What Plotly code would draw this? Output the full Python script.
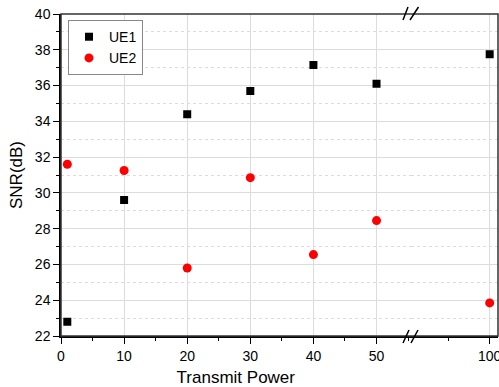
import plotly.graph_objects as go

x_left = [1, 10, 20, 30, 40, 50]
x_right = [100]
ue1_left = [22.8, 29.6, 34.4, 35.7, 37.15, 36.1]
ue1_right = [37.75]
ue2_left = [31.6, 31.25, 25.8, 30.85, 26.55, 28.45]
ue2_right = [23.85]

font = "Liberation Sans, Arial, sans-serif"
fig = go.Figure()
fig.add_trace(go.Scatter(x=x_left, y=ue1_left, mode="markers", name="UE1",
                         marker=dict(symbol="square", size=8, color="black"),
                         xaxis="x", yaxis="y"))
fig.add_trace(go.Scatter(x=x_left, y=ue2_left, mode="markers", name="UE2",
                         marker=dict(symbol="circle", size=9, color="#ff0000"),
                         xaxis="x", yaxis="y"))
fig.add_trace(go.Scatter(x=x_right, y=ue1_right, mode="markers", showlegend=False,
                         marker=dict(symbol="square", size=8, color="black"),
                         xaxis="x2", yaxis="y2", cliponaxis=False))
fig.add_trace(go.Scatter(x=x_right, y=ue2_right, mode="markers", showlegend=False,
                         marker=dict(symbol="circle", size=9, color="#ff0000"),
                         xaxis="x2", yaxis="y2", cliponaxis=False))

grid = "#dcdcdc"

fig.update_layout(
    width=499, height=387,
    margin=dict(l=61, r=1, t=14, b=51, autoexpand=False),
    paper_bgcolor="white", plot_bgcolor="white",
    font=dict(family=font, size=14, color="black"),
    xaxis=dict(domain=[0, 0.80], range=[0, 55.4], dtick=10, tick0=0,
               showgrid=True, gridcolor=grid, zeroline=False, automargin=False,
               showline=True, linecolor="black", linewidth=1.5,
               ticks="outside", ticklen=6, tickcolor="black",
               minor=dict(dtick=5, tick0=0, ticks="outside", ticklen=3, tickcolor="black"),
               title=dict(text="Transmit Power", font=dict(size=17), standoff=12),
               anchor="y"),
    xaxis2=dict(domain=[0.80, 1.0], range=[90.5, 101], tickmode="array",
                tickvals=[100], ticklabeloverflow="allow",
                showgrid=True, gridcolor=grid, zeroline=False, automargin=False,
                showline=True, linecolor="black", linewidth=1.5,
                ticks="outside", ticklen=6, tickcolor="black",
                minor=dict(tickmode="array", tickvals=[95], ticks="outside",
                           ticklen=3, tickcolor="black", showgrid=False),
                anchor="y2"),
    yaxis=dict(range=[22, 40], dtick=2, tick0=22, showgrid=True, gridcolor=grid,
               zeroline=False, automargin=False,
               minor=dict(dtick=1, tick0=22, showgrid=True, gridcolor=grid,
                          griddash="dot", ticks="outside", ticklen=3,
                          tickcolor="black"),
               showline=True, linecolor="black",
               linewidth=1.5, ticks="outside", ticklen=6, tickcolor="black",
               title=dict(text="SNR(dB)", font=dict(size=17), standoff=8),
               anchor="x"),
    yaxis2=dict(range=[22, 40], dtick=2, tick0=22, showgrid=True, gridcolor=grid,
                zeroline=False, automargin=False,
                minor=dict(dtick=1, tick0=22, showgrid=True, gridcolor=grid,
                           griddash="dot"),
                showticklabels=False, ticks="", anchor="x2"),
    legend=dict(x=0.016, y=0.981, xanchor="left", yanchor="top",
                bgcolor="white", bordercolor="#888", borderwidth=1,
                font=dict(size=14), itemwidth=30, tracegroupgap=0),
    showlegend=True,
)

shapes = [dict(type="rect", xref="paper", yref="paper", x0=0, x1=1, y0=0, y1=1,
               line=dict(color="#333", width=1.5))]
def px(v):
    return (v - 61) / 437
def py(v):
    return (336 - v) / 322
for (xa, ya, xb, yb) in [(403, 20, 408, 7), (410, 20, 418.5, 7),
                         (403, 343, 409, 330), (411, 343, 418, 330)]:
    shapes.append(dict(type="line", xref="paper", yref="paper",
                       x0=px(xa), y0=py(ya), x1=px(xb), y1=py(yb),
                       line=dict(color="black", width=1.5)))
fig.update_layout(shapes=shapes)

fig.write_html("out.html", config={"displayModeBar": False},
               post_script="document.body.style.margin='0';document.body.style.overflow='hidden';")
